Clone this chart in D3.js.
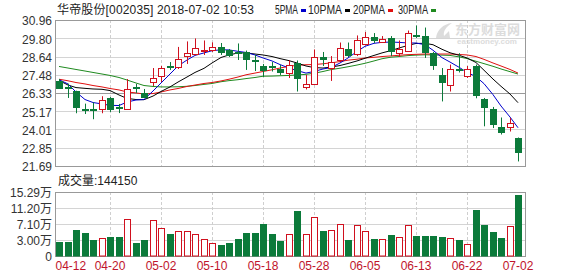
<!DOCTYPE html>
<html>
<head>
<meta charset="utf-8">
<script src="https://cdnjs.cloudflare.com/ajax/libs/d3/7.8.5/d3.min.js"></script>
<style>
body { margin: 0; background: #fff; }
svg text { font-family: "Liberation Sans", Arial, "Noto Sans CJK SC", sans-serif; font-size: 12px; }
</style>
</head>
<body>
<div id="chart"></div>
<script>
// daily k-line, 华帝股份 002035
var dates = ["04-12","04-13","04-16","04-17","04-18","04-19","04-20","04-23","04-24","04-25","04-26","04-27",
  "05-02","05-03","05-04","05-07","05-08","05-09","05-10","05-11","05-14","05-15","05-16","05-17",
  "05-18","05-21","05-22","05-23","05-24","05-25","05-28","05-29","05-30","05-31","06-01","06-04",
  "06-05","06-06","06-07","06-08","06-11","06-12","06-13","06-14","06-15","06-19","06-20","06-21",
  "06-22","06-25","06-26","06-27","06-28","06-29","07-02"];

var opens = [27.11,26.68,26.44,25.33,25.32,25.31,26.01,25.44,25.31,26.72,26.33,27.02,27.40,28.04,27.98,28.64,28.77,28.99,29.06,29.25,
  29.04,28.93,28.90,28.39,28.06,28.01,27.85,27.59,28.26,26.72,26.90,28.61,27.91,28.42,29.09,28.74,29.39,29.88,29.61,29.79,
  28.91,28.97,30.01,29.94,28.86,27.49,26.86,27.83,27.45,28.02,25.96,25.33,24.18,24.15,23.47];
var highs = [27.21,26.92,26.47,25.65,25.72,26.12,26.07,25.63,27.21,26.90,26.58,27.91,28.04,28.29,29.25,29.60,29.79,29.66,29.54,29.50,
  29.12,29.47,29.02,28.74,28.17,28.29,28.10,28.42,28.39,27.47,29.09,28.93,28.67,29.53,29.53,29.98,30.20,30.13,29.94,29.94,
  29.66,30.29,30.61,30.48,28.93,27.91,28.13,28.85,28.04,28.13,26.01,25.44,24.77,24.74,23.50];
var lows = [26.58,26.01,25.04,24.99,24.66,25.04,25.12,25.05,25.25,26.33,26.01,26.77,27.02,27.79,27.85,28.17,28.71,28.74,28.93,28.74,
  28.61,28.42,27.79,27.72,27.34,27.69,27.47,27.28,26.42,26.55,26.83,28.04,27.09,28.36,28.61,28.67,29.34,29.50,29.50,28.67,
  28.61,28.93,29.82,28.55,27.79,25.79,26.42,27.63,27.28,25.99,24.21,24.10,23.69,23.88,21.98];
var closes = [26.64,26.60,25.42,25.27,25.30,25.91,25.31,25.37,26.61,26.67,26.07,27.28,27.91,27.98,28.48,28.86,29.18,29.04,29.25,28.96,
  28.72,28.90,28.48,28.36,27.79,27.94,27.63,28.10,27.28,26.90,28.61,28.48,28.32,29.18,28.74,29.66,29.86,29.66,29.77,28.99,
  29.14,30.13,29.96,28.91,28.12,27.02,27.85,27.77,27.87,26.17,25.48,24.40,23.88,24.42,22.61];

// volume in 万手
var volumes = [2.56,2.56,5.56,4.87,3.00,3.43,3.84,3.84,8.30,2.31,3.00,8.12,5.99,4.53,5.30,5.30,4.53,3.18,2.31,1.72,
  2.31,3.25,4.87,4.87,7.02,4.53,2.82,4.53,10.42,4.53,8.81,5.30,5.56,7.10,3.00,6.84,5.30,3.25,3.25,4.28,
  3.69,6.84,4.02,4.02,4.02,3.77,3.43,3.00,1.97,10.68,6.84,5.12,3.43,6.58,14.415];

var ma5 = [27.17,26.90,26.39,25.91,25.72,25.63,25.54,25.53,25.75,25.88,25.91,26.45,26.96,27.53,28.04,28.42,28.71,28.87,29.01,29.07,
  29.06,28.97,28.90,28.74,28.55,28.36,28.13,27.91,27.75,27.59,27.69,27.85,27.94,28.23,28.55,28.96,29.29,29.48,29.54,29.56,
  29.54,29.50,29.50,29.39,29.04,28.57,28.29,27.96,27.64,27.36,26.92,26.22,25.50,24.80,24.12];
var ma10 = [27.12,26.83,26.67,26.62,26.58,26.56,26.48,26.20,25.98,25.91,25.90,26.13,26.42,26.71,27.02,27.34,27.63,27.89,28.23,28.58,
  28.74,28.87,28.87,28.80,28.74,28.64,28.51,28.38,28.23,28.04,27.94,27.91,27.97,28.07,28.20,28.36,28.53,28.71,28.87,29.02,
  29.18,29.35,29.47,29.48,29.39,29.10,28.88,28.72,28.55,28.26,27.77,27.21,26.75,26.26,25.71];
var ma20 = [27.20,27.10,26.99,26.90,26.80,26.71,26.61,26.52,26.39,26.33,26.26,26.29,26.39,26.52,26.61,26.74,26.83,26.93,26.99,27.09,
  27.20,27.34,27.48,27.59,27.69,27.80,27.91,28.02,28.08,28.12,28.13,28.18,28.24,28.32,28.41,28.47,28.55,28.59,28.64,28.68,
  28.72,28.76,28.78,28.80,28.80,28.80,28.80,28.77,28.74,28.64,28.46,28.23,28.04,27.82,27.59];
var ma30 = [28.01,27.91,27.82,27.72,27.63,27.53,27.44,27.31,27.15,26.96,26.80,26.74,26.71,26.71,26.72,26.75,26.80,26.87,26.93,27.04,
  27.11,27.17,27.24,27.31,27.39,27.40,27.42,27.44,27.47,27.51,27.58,27.69,27.81,27.90,27.99,28.10,28.21,28.36,28.50,28.60,
  28.64,28.70,28.73,28.75,28.74,28.73,28.71,28.62,28.51,28.34,28.19,28.02,27.85,27.68,27.53];

var maNames = ["5PMA","10PMA","20PMA","30PMA"];
var priceTicks = [30.96,29.80,28.64,27.48,26.33,25.17,24.01,22.85,21.69];
var volTicks = [15.29,11.20,7.10,3.00];
var volBottom = -1.1;
var dateTicks = ["04-12","04-20","05-02","05-10","05-18","05-28","06-05","06-13","06-22","07-02"];
var title = "华帝股份[002035] 2018-07-02 10:53";
var volTitle = "成交量:144150";

var svgWidth = 578, svgHeight = 276;
var left = 55, right = 525;
var pTop = 20, pBottom = 166;
var vTop = 192, vBottom = 256;

var upColor = "#d0101e", downColor = "#0b7a3a";
var maColors = ["#0000cc", "#000000", "#e01010", "#1f8a1f"];
var dateColor = "#c0142c";

var svg = d3.select("#chart").append("svg")
  .attr("width", svgWidth)
  .attr("height", svgHeight)
  .style("display", "block");

svg.append("rect").attr("width", svgWidth).attr("height", svgHeight).attr("fill", "#fff");

var x = d3.scaleBand().domain(dates).range([54.75, 522.25]);
var cx = function(d) { return Math.round(x(d) + x.bandwidth() / 2); };
var y = d3.scaleLinear().domain([21.69, 30.96]).range([pBottom, pTop]);
var vy = d3.scaleLinear().domain([volBottom, 15.29]).range([vBottom, vTop]);

var crisp = function(v) { return Math.round(v) + 0.5; };

// watermark
var wm = svg.append("g").attr("fill", "#dcdcdc");
wm.append("path")
  .attr("d", "M436,38 C437,30 443,24 452,23 C446,27 443,31 444,36 L449,31 L450,38 Z");
wm.append("text").attr("x", 455).attr("y", 34)
  .style("font-size", "13px").style("font-weight", "bold")
  .text("东方财富网");
wm.append("text").attr("x", 457).attr("y", 44)
  .style("font-size", "8px").style("font-weight", "bold")
  .text("eastmoney.com");

// price grid
svg.append("g").selectAll("line")
  .data(priceTicks)
  .enter()
  .append("line")
  .attr("x1", left).attr("x2", right)
  .attr("y1", d => crisp(y(d))).attr("y2", d => crisp(y(d)))
  .attr("stroke", (d, i) => i == 4 ? "#999" : "#d4d4d4");

// volume grid
svg.append("g").selectAll("line")
  .data(volTicks)
  .enter()
  .append("line")
  .attr("x1", left).attr("x2", right)
  .attr("y1", d => crisp(vy(d))).attr("y2", d => crisp(vy(d)))
  .attr("stroke", "#d4d4d4");

// dashed verticals
var vlines = dateTicks.slice(1, dateTicks.length - 1);
[[pTop, pBottom], [vTop, vBottom]].forEach(function(r) {
  svg.append("g").selectAll("line")
    .data(vlines)
    .enter()
    .append("line")
    .attr("x1", d => cx(d) + 0.5).attr("x2", d => cx(d) + 0.5)
    .attr("y1", r[0]).attr("y2", r[1])
    .attr("stroke", "#cfcfcf")
    .attr("stroke-dasharray", "3,2");
});

// frames
svg.append("rect").attr("x", left + 0.5).attr("y", pTop + 0.5)
  .attr("width", right - left).attr("height", pBottom - pTop)
  .attr("fill", "none").attr("stroke", "#999");
svg.append("rect").attr("x", left + 0.5).attr("y", vTop + 0.5)
  .attr("width", right - left).attr("height", vBottom - vTop)
  .attr("fill", "none").attr("stroke", "#999");

// MA lines
var maSeries = [ma5, ma10, ma20, ma30];
var maGroup = svg.append("g");
maSeries.slice().reverse().forEach(function(s, k) {
  var idx = maSeries.length - 1 - k;
  var line = d3.line()
    .x((d, i) => cx(dates[i]))
    .y(d => y(d));
  maGroup.append("path")
    .datum(s)
    .attr("d", line)
    .attr("fill", "none")
    .attr("stroke", maColors[idx])
    .attr("stroke-width", 1);
});

// candles
var candles = dates.map(function(d, i) {
  return { date: d, open: opens[i], high: highs[i], low: lows[i], close: closes[i], vol: volumes[i] };
});
var isUp = function(d) { return d.close >= d.open; };
var colorOf = function(d) { return isUp(d) ? upColor : downColor; };

var candleGroup = svg.append("g").selectAll("g")
  .data(candles)
  .enter()
  .append("g");

candleGroup.append("line")
  .attr("x1", d => cx(d.date) + 0.5).attr("x2", d => cx(d.date) + 0.5)
  .attr("y1", d => y(d.high)).attr("y2", d => y(d.low))
  .attr("stroke", colorOf);

candleGroup.append("rect")
  .attr("x", d => cx(d.date) - 2.5)
  .attr("y", d => crisp(y(Math.max(d.open, d.close))))
  .attr("width", 6)
  .attr("height", d => Math.max(1, Math.round(Math.abs(y(d.open) - y(d.close)))))
  .attr("fill", d => isUp(d) ? "#fff" : downColor)
  .attr("stroke", colorOf);

// volume bars
svg.append("g").selectAll("rect")
  .data(candles)
  .enter()
  .append("rect")
  .attr("x", d => cx(d.date) - 2.5)
  .attr("y", d => crisp(vy(d.vol)))
  .attr("width", 6)
  .attr("height", d => vBottom - crisp(vy(d.vol)))
  .attr("fill", d => isUp(d) ? "#fff" : downColor)
  .attr("stroke", colorOf);

// axes
var priceAxis = d3.axisLeft(y)
  .tickValues(priceTicks)
  .tickFormat(d3.format(".2f"))
  .tickSize(0)
  .tickPadding(3);
svg.append("g")
  .attr("transform", `translate(${left}, 1)`)
  .call(priceAxis)
  .call(g => g.select(".domain").remove())
  .selectAll("text").attr("fill", "#333").style("font-size", "12px");

var volAxis = d3.axisLeft(vy)
  .tickValues(volTicks.concat([volBottom]))
  .tickFormat(d => d === volBottom ? "0" : d3.format(".2f")(d) + "万")
  .tickSize(0)
  .tickPadding(3);
svg.append("g")
  .attr("transform", `translate(${left}, 1)`)
  .call(volAxis)
  .call(g => g.select(".domain").remove())
  .selectAll("text").attr("fill", "#333").style("font-size", "12px");

var dateAxis = d3.axisBottom(x)
  .tickValues(dateTicks)
  .tickSize(0)
  .tickPadding(5);
var dateG = svg.append("g")
  .attr("transform", `translate(0, ${vBottom})`)
  .call(dateAxis)
  .call(g => g.select(".domain").remove());
dateG.selectAll("text")
  .attr("fill", dateColor)
  .style("font-size", "12px")
  .attr("text-anchor", (d, i) => i == 0 ? "start" : "middle")
  .attr("dx", (d, i) => i == 0 ? -3.5 : 0);

// titles
svg.append("text")
  .attr("x", 57).attr("y", 14)
  .attr("fill", "#222")
  .attr("textLength", 197)
  .text(title);

svg.append("text")
  .attr("x", 58).attr("y", 185)
  .attr("fill", "#222")
  .text(volTitle);

// legend
var legendX = [275, 308, 353, 398];
var legendW = [23, 34, 32, 30];
var legend = svg.append("g").selectAll("g")
  .data(maNames)
  .enter()
  .append("g");
legend.append("text")
  .attr("x", (d, i) => legendX[i]).attr("y", 14)
  .attr("fill", "#222")
  .attr("textLength", (d, i) => legendW[i])
  .attr("lengthAdjust", "spacingAndGlyphs")
  .text(d => d);
legend.append("rect")
  .attr("x", (d, i) => legendX[i] + legendW[i] + 3).attr("y", 9)
  .attr("width", 5).attr("height", 3)
  .attr("fill", (d, i) => maColors[i]);
</script>
</body>
</html>
